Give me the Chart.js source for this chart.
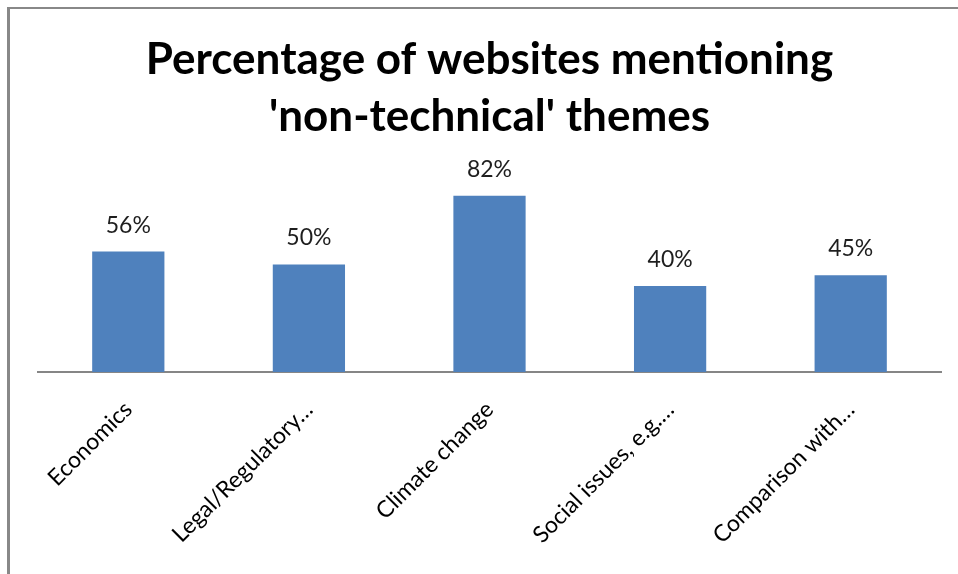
<!DOCTYPE html>
<html>
<head>
<meta charset="utf-8">
<script src="https://cdn.jsdelivr.net/npm/chart.js@4/dist/chart.umd.min.js"></script>
<style>
  html, body { margin: 0; padding: 0; background: #fff; }
  #wrap { position: relative; width: 958px; height: 574px; }
  #frame { position: absolute; left: 7px; top: 7px; width: 960px; height: 580px;
           border-left: 3px solid #888; border-top: 2px solid #888; pointer-events: none; }
  canvas { position: absolute; left: 0; top: 0; }
</style>
</head>
<body>
<div id="wrap">
  <canvas id="themesChart" width="958" height="574"></canvas>
  <div id="frame"></div>
</div>
<script>
const barColor  = '#4f81bd';
const axisColor = '#868686';
const fontName  = 'Lato';

// categories as shown on the axis (Excel truncated the long ones)
const categories = ['Economics', 'Legal/Regulatory…', 'Climate change', 'Social issues, e.g.…', 'Comparison with…'];
const percentages = [56, 50, 82, 40, 45];
const titleLines = ['Percentage of websites mentioning', "'non-technical' themes"];

// value labels above each bar
const valueLabels = {
    id: 'valueLabels',
    afterDatasetsDraw(chart) {
        const ctx = chart.ctx;
        const meta = chart.getDatasetMeta(0);
        ctx.save();
        ctx.font = `23px ${fontName}`;
        ctx.fillStyle = '#1e1e1e';
        ctx.textAlign = 'center';
        ctx.textBaseline = 'alphabetic';
        meta.data.forEach((bar, i) => {
            ctx.fillText(`${percentages[i]}%`, bar.x, bar.y - 19);
        });
        ctx.restore();
    }
};

new Chart(document.getElementById('themesChart').getContext('2d'), {
    type: 'bar',
    data: {
        labels: categories,
        datasets: [{
            data: percentages,
            backgroundColor: barColor,
            borderWidth: 0,
            barPercentage: 0.4,
            categoryPercentage: 1.0
        }]
    },
    options: {
        responsive: false,
        animation: false,
        layout: { padding: { left: 38, right: 17, top: 0, bottom: 0 } },
        plugins: {
            legend: { display: false },
            tooltip: { enabled: false },
            title: {
                display: true,
                text: titleLines,
                color: '#000',
                font: { family: fontName, size: 44, weight: 'bold', lineHeight: 1.295 },
                padding: { top: 31, bottom: 12 }
            }
        },
        scales: {
            y: { display: false, min: 0, max: 100 },
            x: {
                grid: { display: false, drawTicks: false },
                border: { color: axisColor, width: 2 },
                ticks: {
                    color: '#000',
                    font: { family: fontName, size: 23 },
                    minRotation: 45,
                    maxRotation: 45,
                    autoSkip: false,
                    padding: 24
                },
                afterFit(scale) { scale.height = 202; }
            }
        }
    },
    plugins: [valueLabels]
});
</script>
</body>
</html>
